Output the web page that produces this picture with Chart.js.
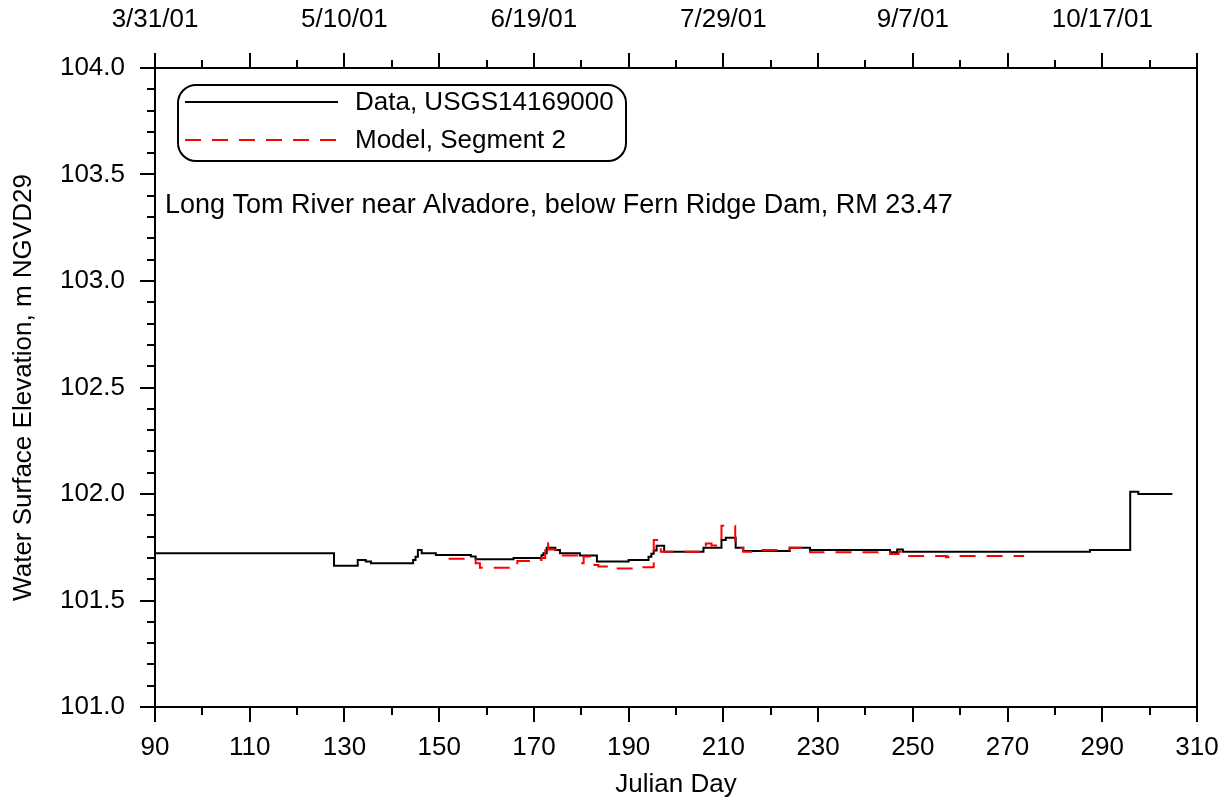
<!DOCTYPE html>
<html>
<head>
<meta charset="utf-8">
<script src="https://cdn.jsdelivr.net/npm/chart.js@4/dist/chart.umd.min.js"></script>
<style>
  html, body { margin: 0; padding: 0; background: #fff; }
  #wrap { width: 1231px; height: 802px; }
</style>
</head>
<body>
<div id="wrap"><canvas id="myChart" width="1231" height="802"></canvas></div>
<script>
// observed water surface (step series)
const dataDays = [90, 127.8, 132.8, 134.5, 135.6, 144.5, 145.0, 145.5, 146.3, 149.3, 156.7, 157.7, 165.7, 171.6, 172.0, 172.7, 174.5, 175.5, 179.7, 183.3, 190.0, 194.2, 194.8, 195.3, 195.9, 197.5, 205.8, 209.6, 210.5, 212.6, 214.2, 224.0, 228.3, 245.2, 246.7, 247.9, 287.4, 295.9, 297.6, 304.8];
const dataElev = [101.722, 101.663, 101.690, 101.683, 101.675, 101.690, 101.705, 101.737, 101.722, 101.714, 101.706, 101.694, 101.700, 101.712, 101.722, 101.748, 101.737, 101.722, 101.711, 101.683, 101.690, 101.705, 101.720, 101.735, 101.757, 101.729, 101.748, 101.784, 101.795, 101.748, 101.732, 101.748, 101.737, 101.726, 101.740, 101.729, 101.737, 102.011, 102.000, 102.000];

// model, segment 2
const modelDays = [152.0, 157.7, 158.6, 166.5, 169.2, 171.6, 172.4, 173.0, 175.5, 179.4, 180.5, 181.9, 182.8, 183.6, 186.0, 192.0, 195.3, 196.8, 206.3, 207.5, 209.6, 212.5, 213.3, 214.2, 217.4, 224.0, 228.3, 245.2, 247.0, 248.5, 257.0, 257.5, 273.5];
const modelElev = [101.696, 101.675, 101.654, 101.686, 101.690, 101.700, 101.776, 101.740, 101.711, 101.675, 101.706, 101.690, 101.667, 101.660, 101.650, 101.656, 101.784, 101.729, 101.768, 101.758, 101.851, 101.776, 101.748, 101.729, 101.737, 101.748, 101.726, 101.718, 101.729, 101.709, 101.703, 101.709, 101.709];

const seriesNames = ['Data, USGS14169000', 'Model, Segment 2'];
const stationNote = 'Long Tom River near Alvadore, below Fern Ridge Dam, RM 23.47';

const FONT = 'Liberation Sans, Arial, sans-serif';

function toPoints(xs, ys) {
  return xs.map((d, i) => ({ x: d, y: ys[i] }));
}

function dayToDate(day) {
  const d = new Date(2001, 0, day);
  return (d.getMonth() + 1) + '/' + d.getDate() + '/01';
}

// keep plot box fixed, labels may hang over the edges
function fixX(h) {
  return function (scale) {
    scale.height = h;
    scale.paddingLeft = 0;
    scale.paddingRight = 0;
  };
}

// tick marks drawn outward, major + minor
const tickMarks = {
  id: 'tickMarks',
  afterDraw(chart) {
    const ctx = chart.ctx;
    const a = chart.chartArea;
    ctx.save();
    ctx.strokeStyle = '#000';
    ctx.lineWidth = 2;
    ctx.beginPath();
    const x = chart.scales.x;
    for (let v = 90; v <= 310; v += 10) {
      const px = Math.round(x.getPixelForValue(v));
      const len = (v % 20 === 10) ? 15 : 8;
      ctx.moveTo(px, a.bottom); ctx.lineTo(px, a.bottom + len);
      ctx.moveTo(px, a.top); ctx.lineTo(px, a.top - len);
    }
    const y = chart.scales.y;
    for (let i = 0; i <= 30; i++) {
      const py = Math.round(y.getPixelForValue(101 + i * 0.1));
      const len = (i % 5 === 0) ? 15 : 8;
      ctx.moveTo(a.left, py); ctx.lineTo(a.left - len, py);
    }
    ctx.stroke();
    // frame
    ctx.strokeRect(a.left, a.top, a.right - a.left, a.bottom - a.top);
    ctx.restore();
  }
};

const boxLegend = {
  id: 'boxLegend',
  afterDraw(chart) {
    const ctx = chart.ctx;
    ctx.save();
    ctx.strokeStyle = '#000';
    ctx.lineWidth = 2;
    ctx.beginPath();
    ctx.roundRect(178, 85, 448, 76, 18);
    ctx.stroke();

    const sets = chart.data.datasets;
    const rows = [102, 140];
    sets.forEach((ds, i) => {
      ctx.strokeStyle = ds.borderColor;
      ctx.lineWidth = 2;
      ctx.setLineDash(ds.borderDash || []);
      ctx.beginPath();
      ctx.moveTo(185, rows[i]);
      ctx.lineTo(338, rows[i]);
      ctx.stroke();
      ctx.setLineDash([]);
      ctx.fillStyle = '#000';
      ctx.font = '26px ' + FONT;
      ctx.textBaseline = 'middle';
      ctx.fillText(ds.label, 355, rows[i] + 1);
    });

    ctx.font = '27px ' + FONT;
    ctx.fillText(stationNote, 165, 206);
    ctx.restore();
  }
};

new Chart(document.getElementById('myChart'), {
  type: 'line',
  data: {
    datasets: [{
      label: seriesNames[0],
      data: toPoints(dataDays, dataElev),
      borderColor: '#000000',
      borderWidth: 2,
      stepped: 'before',
      pointRadius: 0,
      order: 2
    }, {
      label: seriesNames[1],
      data: toPoints(modelDays, modelElev),
      borderColor: '#ff0000',
      borderWidth: 2,
      borderDash: [16, 11],
      stepped: 'before',
      pointRadius: 0,
      order: 1
    }]
  },
  options: {
    responsive: false,
    animation: false,
    layout: { padding: { left: 0, right: 34, top: 0, bottom: 0 } },
    plugins: {
      legend: false,
      tooltip: { enabled: false }
    },
    scales: {
      x: {
        type: 'linear',
        position: 'bottom',
        min: 90,
        max: 310,
        afterFit: fixX(95),
        grid: { display: false, drawTicks: false },
        border: { display: false },
        ticks: {
          stepSize: 20,
          padding: 25,
          color: '#000',
          font: { family: FONT, size: 26 },
          maxRotation: 0,
          autoSkip: false
        },
        title: {
          display: true,
          text: 'Julian Day',
          color: '#000',
          font: { family: FONT, size: 26 },
          padding: { top: 0, bottom: 2 }
        }
      },
      x2: {
        type: 'linear',
        position: 'top',
        min: 90,
        max: 310,
        afterFit: fixX(68),
        grid: { display: false, drawTicks: false },
        border: { display: false },
        ticks: {
          stepSize: 20,
          padding: 33,
          color: '#000',
          font: { family: FONT, size: 26 },
          maxRotation: 0,
          autoSkip: false,
          callback: (v) => (v % 40 === 10 ? dayToDate(v) : '')
        }
      },
      y: {
        min: 101,
        max: 104,
        afterFit(scale) { scale.width = 155; scale.paddingTop = 0; scale.paddingBottom = 0; },
        grid: { display: false, drawTicks: false },
        border: { display: false },
        ticks: {
          stepSize: 0.5,
          padding: 30,
          color: '#000',
          font: { family: FONT, size: 26 },
          callback: (v) => v.toFixed(1)
        },
        title: {
          display: true,
          text: 'Water Surface Elevation, m NGVD29',
          color: '#000',
          font: { family: FONT, size: 26 },
          padding: { top: 8, bottom: 0 }
        }
      }
    }
  },
  plugins: [tickMarks, boxLegend]
});
</script>
</body>
</html>
